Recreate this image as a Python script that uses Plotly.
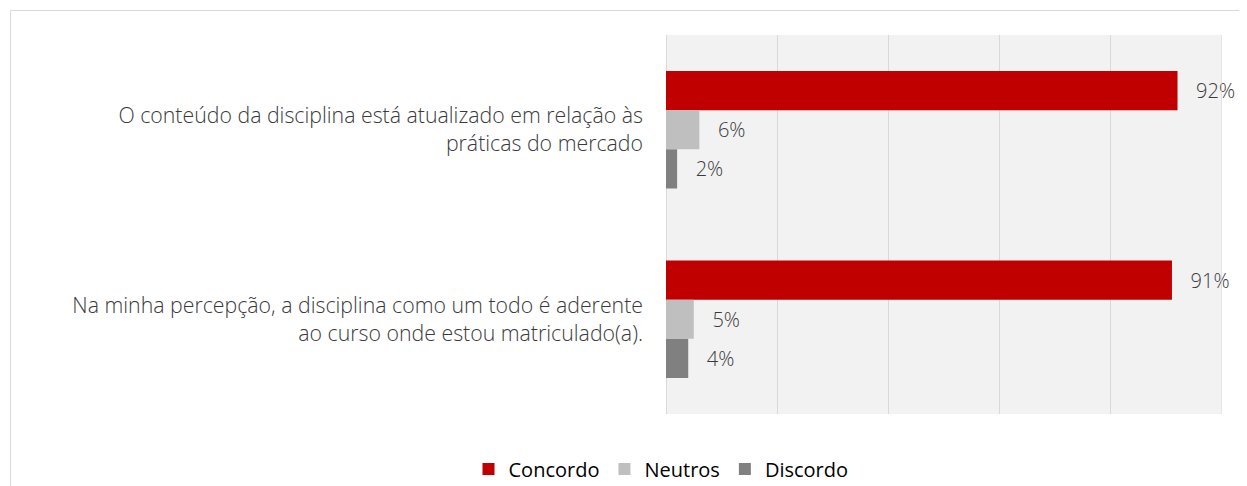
import plotly.graph_objects as go

categories = [
    "O conteúdo da disciplina está atualizado em relação às<br>práticas do mercado",
    "Na minha percepção, a disciplina como um todo é aderente<br>ao curso onde estou matriculado(a).",
]
series_names = ["Concordo", "Neutros", "Discordo"]
concordo = [0.92, 0.91]
neutros = [0.06, 0.05]
discordo = [0.02, 0.04]
colors = ["#c00000", "#bfbfbf", "#808080"]

OFF = 8  # default body margin of the html page
W, H = 1247 - OFF, 486 - OFF
ml = 666 - OFF
mr = W - (1222 - OFF)
mt = 35 - OFF
mb = H - (414 - OFF)
pw, ph = W - ml - mr, H - mt - mb

fig = go.Figure()
for name, vals, col in zip(series_names, [concordo, neutros, discordo], colors):
    fig.add_trace(go.Bar(
        y=categories, x=vals, name=name, orientation="h",
        marker=dict(color=col, line=dict(width=0)),
        texttemplate="\u00a0\u00a0\u00a0%{x:.0%}", textposition="outside",
        textfont=dict(family="Open Sans", size=20, color="#3a3a3a", weight=300),
        cliponaxis=False,
    ))

def px_x(p):
    return (p - OFF - ml) / pw

def px_y(p):
    return (H - mb - (p - OFF)) / ph

border = dict(color="#d9d9d9", width=1)

fig.update_layout(
    width=W, height=H,
    margin=dict(l=ml, r=mr, t=mt, b=mb, pad=0, autoexpand=False),
    paper_bgcolor="white", plot_bgcolor="#f2f2f2",
    barmode="group", bargap=0.38, bargroupgap=0,
    font=dict(family="Open Sans", size=21, color="#3a3a3a"),
    xaxis=dict(range=[0, 1], dtick=0.2, showticklabels=False, showgrid=True,
               gridcolor="#d9d9d9", gridwidth=1, zeroline=True,
               zerolinecolor="#d9d9d9", zerolinewidth=1, showline=False, fixedrange=True),
    yaxis=dict(autorange="reversed", showgrid=False, ticklabelstandoff=22,
               tickfont=dict(family="Open Sans", size=21.3, color="#3a3a3a", weight=300),
               showline=False, ticks=""),
    legend=dict(orientation="h", x=px_x(661), xanchor="center", y=px_y(469), yanchor="middle",
                font=dict(family="Open Sans", size=20, color="#000000"),
                itemwidth=30, traceorder="normal", bgcolor="rgba(0,0,0,0)"),
    shapes=[
        dict(type="line", xref="paper", yref="paper",
             x0=px_x(10.5), x1=px_x(1300), y0=px_y(10.5), y1=px_y(10.5), line=border),
        dict(type="line", xref="paper", yref="paper",
             x0=px_x(10.5), x1=px_x(10.5), y0=px_y(10.5), y1=px_y(520), line=border),
        dict(type="line", xref="x", yref="paper", x0=1, x1=1, y0=0, y1=1,
             line=dict(color="#d9d9d9", width=1)),
    ],
)

fig.write_html("out.html")
